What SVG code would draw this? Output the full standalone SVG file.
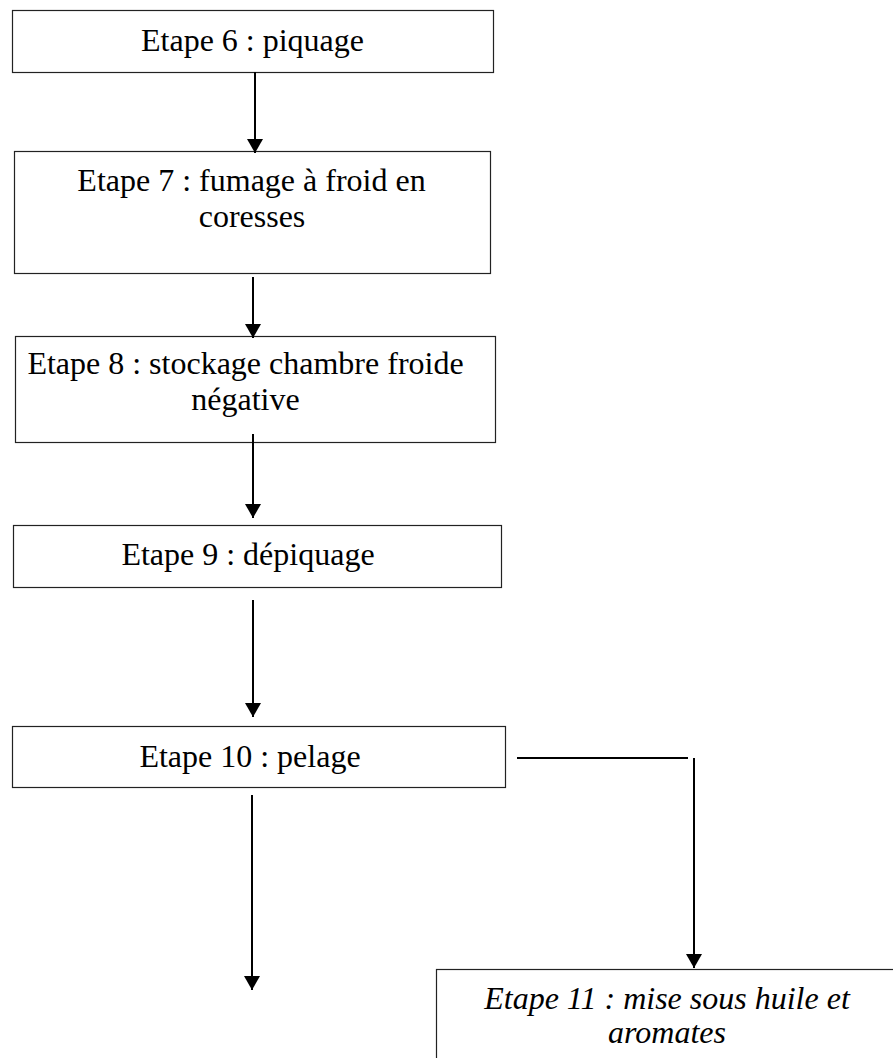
<svg xmlns="http://www.w3.org/2000/svg" width="893" height="1058" viewBox="0 0 893 1058">
<style>
.box{fill:#fff;stroke:#222;stroke-width:1.2}
.t{font-family:"Liberation Serif","Times New Roman",serif;font-size:32px;fill:#000;text-anchor:middle}
.it{font-style:italic}
.c{stroke:#000;stroke-width:2;fill:none}
</style>
<defs>
<marker id="ah" markerUnits="userSpaceOnUse" markerWidth="16" markerHeight="16" viewBox="0 0 14 16" refX="14" refY="8" orient="auto">
<path d="M0,0 L14,8 L0,16 z" fill="#000"/>
</marker>
</defs>
<rect width="893" height="1058" fill="#fff"/>
<g id="n6"><rect class="box" x="12.5" y="10.5" width="481" height="62"/><text class="t" x="252.5" y="51">Etape 6 : piquage</text></g>
<g id="n7"><rect class="box" x="14.5" y="151.5" width="476" height="122"/><text class="t" x="251.5" y="191">Etape 7 : fumage à froid en</text><text class="t" x="252" y="227">coresses</text></g>
<g id="n8"><rect class="box" x="15.5" y="336.5" width="480" height="106"/><text class="t" x="245.5" y="374">Etape 8 : stockage chambre froide</text><text class="t" x="245.5" y="410">négative</text></g>
<g id="n9"><rect class="box" x="13.5" y="525.5" width="488" height="62"/><text class="t" x="248" y="565">Etape 9 : dépiquage</text></g>
<g id="n10"><rect class="box" x="12.5" y="726.5" width="493" height="61"/><text class="t" x="250" y="767">Etape 10 : pelage</text></g>
<g id="n11"><rect class="box" x="436.5" y="969.5" width="470" height="120"/><text class="t it" x="667" y="1009">Etape 11 : mise sous huile et</text><text class="t it" x="667" y="1043">aromates</text></g>
<g id="connectors">
<line class="c" x1="255" y1="72" x2="255" y2="153" marker-end="url(#ah)"/>
<line class="c" x1="253" y1="277" x2="253" y2="338" marker-end="url(#ah)"/>
<line class="c" x1="253" y1="434" x2="253" y2="518" marker-end="url(#ah)"/>
<line class="c" x1="253" y1="600" x2="253" y2="717" marker-end="url(#ah)"/>
<line class="c" x1="252" y1="795" x2="252" y2="990" marker-end="url(#ah)"/>
<line class="c" x1="517" y1="758" x2="688" y2="758"/>
<line class="c" x1="694" y1="758" x2="694" y2="968" marker-end="url(#ah)"/>
</g>
</svg>
